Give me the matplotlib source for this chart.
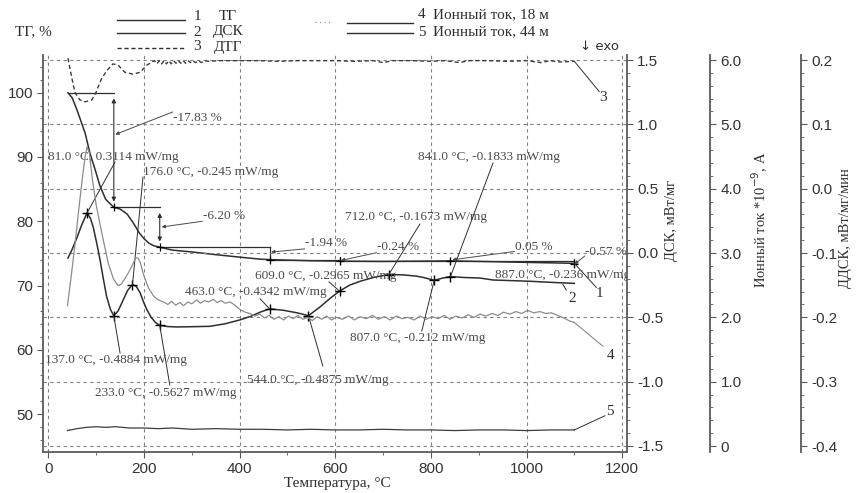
import numpy as np
import matplotlib
matplotlib.use("Agg")
import matplotlib.pyplot as plt
from matplotlib.lines import Line2D
from matplotlib.ticker import MultipleLocator, FuncFormatter

plt.rcParams['font.family'] = ['Liberation Sans', 'DejaVu Sans']
plt.rcParams['axes.unicode_minus'] = False

SERIF = ['Liberation Serif', 'DejaVu Serif']
DARK = '#2e2e2e'
GREY = '#8c8c8c'
TXT = '#4a4a4a'
AXC = '#5a5a5a'

# --- данные ---
# ТГ, %
tg_t = [41, 50, 60, 70, 77, 87, 98, 108, 120, 137, 150, 165, 178, 190, 200, 210,
        220, 233, 260, 303, 350, 402, 443, 463, 500, 550, 609, 700, 800, 841, 900,
        1000, 1100]
tg_v = [100.0, 99.2, 97.3, 95.2, 93.7, 90.6, 88.0, 85.5, 83.4, 82.17, 81.9, 81.1,
        79.7, 78.2, 77.3, 76.6, 76.2, 75.97, 75.5, 75.2, 74.8, 74.4, 74.1, 74.03,
        73.95, 73.85, 73.79, 73.75, 73.8, 73.84, 73.75, 73.6, 73.45]

# ступени ТГ
step_t = [41, 137, 233, 463, 609, 841, 1100]
step_pct = [-17.83, -6.20, -1.94, -0.24, 0.05, -0.57]

# ДСК, мВт/мг
dsc_t = [41, 50, 60, 70, 81, 88, 94, 101, 108, 115, 122, 130, 137, 146, 156, 166,
         176, 184, 192, 199, 206, 215, 224, 233, 250, 269, 300, 338, 370, 401, 425,
         443, 463, 491, 520, 544, 568, 590, 609, 630, 652, 680, 712, 742, 770, 784,
         807, 825, 841, 867, 903, 930, 970, 1008, 1050, 1091, 1100]
dsc_v = [-0.04, 0.03, 0.12, 0.22, 0.3114, 0.27, 0.20, 0.08, -0.05, -0.20, -0.34,
         -0.44, -0.4884, -0.45, -0.37, -0.29, -0.245, -0.26, -0.31, -0.38, -0.44,
         -0.50, -0.54, -0.5627, -0.572, -0.575, -0.573, -0.57, -0.55, -0.52, -0.49,
         -0.46, -0.4342, -0.445, -0.465, -0.4875, -0.42, -0.35, -0.2965, -0.25,
         -0.22, -0.19, -0.1673, -0.17, -0.18, -0.19, -0.212, -0.195, -0.1833,
         -0.19, -0.195, -0.21, -0.215, -0.22, -0.228, -0.235, -0.236]

# пики ДСК
peak_t = [81.0, 137.0, 176.0, 233.0, 463.0, 544.0, 609.0, 712.0, 807.0, 841.0]
peak_v = [0.3114, -0.4884, -0.245, -0.5627, -0.4342, -0.4875, -0.2965, -0.1673,
          -0.212, -0.1833]
extra_t = 887.0
extra_v = -0.236

# ДТГ, %/мин (правая шкала ДДСК)
dtg_t = [41, 50, 56, 66, 77, 91, 100, 104, 112, 123, 135, 146, 160, 177, 192, 206,
         217, 222, 227, 232, 237, 242, 247, 252, 257, 262, 267, 272, 277, 282, 287,
         292, 297, 302, 308, 314, 320, 327, 335, 360, 400, 440, 480, 520, 560, 600,
         640, 680, 700, 720, 760, 800, 830, 860, 880, 920, 960, 1000, 1030, 1050,
         1070, 1100]
dtg_v = [0.203, 0.169, 0.149, 0.138, 0.135, 0.138, 0.150, 0.158, 0.172, 0.184,
         0.194, 0.192, 0.181, 0.178, 0.181, 0.192, 0.197, 0.199, 0.194, 0.199,
         0.194, 0.199, 0.194, 0.199, 0.194, 0.199, 0.195, 0.199, 0.195, 0.199,
         0.195, 0.199, 0.196, 0.199, 0.196, 0.199, 0.196, 0.199, 0.198, 0.199,
         0.199, 0.199, 0.198, 0.199, 0.199, 0.199, 0.198, 0.199, 0.196, 0.199,
         0.199, 0.198, 0.199, 0.196, 0.199, 0.199, 0.198, 0.199, 0.196, 0.199,
         0.197, 0.198]

# Ионный ток, 18 м
i18_t = [40, 48, 56, 64, 71, 77, 81, 86, 92, 100, 108, 115, 125, 136, 146, 153,
         160, 168, 175, 183, 188, 192, 197, 202, 210, 220, 230, 241, 250, 258, 266,
         275, 283, 292, 300, 310, 318, 327, 335, 345, 353, 362, 370, 380, 390, 401,
         412, 422, 432, 442, 452, 462, 472, 482, 492, 502, 512, 522, 532, 542, 552,
         562, 572, 582, 592, 602, 615, 628, 640, 652, 665, 678, 690, 703, 715, 728,
         740, 752, 765, 778, 790, 803, 815, 828, 840, 852, 865, 878, 890, 903, 915,
         928, 940, 952, 965, 978, 990, 1002, 1015, 1028, 1040, 1052, 1065, 1078,
         1091, 1100]
i18_v = [2.18, 2.65, 3.15, 3.70, 4.15, 4.50, 4.65, 4.55, 4.15, 3.75, 3.45, 3.20,
         2.85, 2.60, 2.49, 2.52, 2.60, 2.70, 2.80, 2.93, 2.92, 2.86, 2.72, 2.60,
         2.45, 2.33, 2.27, 2.24, 2.20, 2.25, 2.19, 2.23, 2.18, 2.24, 2.21, 2.27,
         2.22, 2.26, 2.24, 2.28, 2.23, 2.26, 2.22, 2.24, 2.19, 2.12, 2.08, 2.06,
         2.02, 2.05, 1.99, 2.03, 1.97, 2.01, 1.96, 2.02, 1.98, 2.03, 1.97, 2.00,
         1.95, 2.01, 1.97, 2.02, 1.96, 2.00, 1.97, 2.02, 1.96, 2.01, 1.98, 2.03,
         1.97, 2.01, 1.96, 2.02, 1.98, 2.00, 1.96, 2.02, 1.97, 2.01, 1.98, 2.03,
         1.97, 2.02, 1.99, 2.04, 2.00, 2.05, 2.02, 2.06, 2.03, 2.08, 2.05, 2.09,
         2.06, 2.11, 2.07, 2.09, 2.06, 2.07, 2.03, 1.99, 1.94, 1.92]

# Ионный ток, 44 м
i44_t = [40, 60, 80, 100, 120, 140, 170, 200, 230, 260, 300, 350, 400, 450, 500,
         550, 600, 650, 700, 750, 800, 850, 900, 950, 1000, 1050, 1100]
i44_v = [0.24, 0.27, 0.29, 0.30, 0.29, 0.30, 0.28, 0.28, 0.27, 0.28, 0.26, 0.27,
         0.26, 0.26, 0.25, 0.26, 0.25, 0.25, 0.26, 0.25, 0.25, 0.24, 0.25, 0.25,
         0.24, 0.25, 0.25]

# --- размещение подписей (T, значение по своей шкале) ---
peak_txt = [(-0.6, 0.746), (-7, -0.832), (198, 0.63), (98, -1.088), (286, -0.303),
            (415, -0.987), (432, -0.179), (620, 0.28), (631, -0.661), (773, 0.746)]
peak_lead = [(139.5, 0.707), (150, -0.777), (198, 0.59), (254, -1.026),
             (443, -0.357), (574, -0.878), (587, -0.225), (777, 0.225),
             (781, -0.606), (930, 0.70)]
extra_txt = (934, -0.171)
step_txt = [(260, 96.1), (323, 80.8), (537, 76.6), (687, 76.0), (976, 76.0),
            (1122, 75.2)]
step_lead = [((140, 93.5), (260, 97.0)), ((237, 79.1), (322, 80.0)),
             ((466, 75.2), (536, 75.7)), ((612, 73.9), (686, 75.1)),
             ((845, 74.0), (975, 75.3)), ((1100, 73.3), (1122, 74.6))]

fig = plt.figure(figsize=(8.57, 4.93), dpi=100)
ax = fig.add_axes([43.3 / 857, 41 / 493, 583.4 / 857, 397 / 493])
ax_dsc = ax.twinx()
ax_ion = ax.twinx()
ax_dtg = ax.twinx()

ax.set_xlim(-10.5, 1209.5)
ax.set_ylim(44.09, 105.87)
ax_dsc.set_ylim(-1.547, 1.539)
ax_ion.set_ylim(-0.093, 6.078)
ax_dtg.set_ylim(-0.4093, 0.2078)

# сетка
gkw = dict(color='#808080', lw=0.8, ls=(0, (3, 3)))
ax.grid(axis='x', **gkw)
ax_dsc.grid(axis='y', **gkw)

# кривые
ax.plot(tg_t, tg_v, color=DARK, lw=1.1)
ax_dsc.plot(dsc_t, dsc_v, color=DARK, lw=1.1)
ax_dsc.plot(peak_t, peak_v, ls='none', marker='+', ms=7, mew=1.0, color='black')
ax_ion.plot(i18_t, i18_v, color=GREY, lw=0.9)
ax_ion.plot(i44_t, i44_v, color='#3c3c3c', lw=0.9)
ax_dtg.plot(dtg_t, dtg_v, color='#3c3c3c', lw=1.0, ls=(0, (3, 2)))

# ступени ТГ
levels = [100.0]
for s in step_pct:
    levels.append(levels[-1] + s)
lkw = dict(color=DARK, lw=0.9)
for i, s in enumerate(step_pct):
    ax.plot([step_t[i], step_t[i + 1]], [levels[i], levels[i]], **lkw)
    t1 = step_t[i + 1]
    if abs(s) > 5:
        ax.annotate('', xy=(t1, levels[i]), xytext=(t1, levels[i + 1]),
                    arrowprops=dict(arrowstyle='<|-|>', lw=0.8, color=DARK,
                                    mutation_scale=6, shrinkA=4, shrinkB=4))
    elif abs(s) > 1:
        ax.plot([t1, t1], [levels[i], levels[i + 1]], **lkw)
    else:
        mid = (levels[i] + levels[i + 1]) / 2
        ax.plot([t1, t1], [mid + 0.5, mid - 0.5], **lkw)
    (x0, y0), (x1, y1) = step_lead[i]
    ax.annotate('', xy=(x0, y0), xytext=(x1, y1),
                arrowprops=dict(arrowstyle='-|>', lw=0.7, color=TXT,
                                mutation_scale=5, shrinkA=0, shrinkB=0))
    ax.text(step_txt[i][0], step_txt[i][1], f"{s:.2f} %", family=SERIF,
            fontsize=9.5, color=TXT, ha='left', va='center')
ax.plot(step_t[1:], levels[1:], ls='none', marker='+', ms=6, mew=0.9,
        color='black')

# подписи пиков ДСК
for (pt, pv), (tx, ty), (lx, ly) in zip(zip(peak_t, peak_v), peak_txt, peak_lead):
    ax_dsc.plot([pt, lx], [pv, ly], color=DARK, lw=0.7)
    ax_dsc.text(tx, ty, f"{pt:.1f} °C, {pv:g} mW/mg", family=SERIF,
                fontsize=9.5, color=TXT, ha='left', va='center')
ax_dsc.text(extra_txt[0], extra_txt[1], f"{extra_t:.1f} °C, {extra_v:g} mW/mg",
            family=SERIF, fontsize=9.5, color=TXT, ha='left', va='center',
            clip_on=True, clip_box=ax.bbox)

# номера кривых
nkw = dict(family=SERIF, fontsize=11, color=DARK, ha='center', va='center')
ax.plot([tg_t[-1], 1146], [tg_v[-1], 69.7], color=DARK, lw=0.7)
ax.text(1152, 68.8, '1', **nkw)
ax.plot([1076, 1083], [70.2, 69.3], color=DARK, lw=0.7)
ax.text(1095, 67.9, '2', **nkw)
ax_dtg.plot([dtg_t[-1], 1152], [dtg_v[-1], 0.151], color=DARK, lw=0.7)
ax_dtg.text(1160, 0.1425, '3', **nkw)
ax_ion.plot([i18_t[-1], 1160], [i18_v[-1], 1.55], color=GREY, lw=0.8)
ax_ion.text(1175, 1.40, '4', **nkw)
ax_ion.plot([i44_t[-1], 1164], [i44_v[-1], 0.47], color=DARK, lw=0.7)
ax_ion.text(1175, 0.53, '5', **nkw)

# оси
for a in (ax, ax_dsc, ax_ion, ax_dtg):
    a.spines['top'].set_visible(False)
    for sp in a.spines.values():
        sp.set_color(AXC)
        sp.set_linewidth(1.3)
    a.tick_params(which='both', direction='out', color=AXC, labelcolor='#333333',
                  labelsize=11)
    a.tick_params(which='major', length=4)
    a.tick_params(which='minor', length=2.5)
ax.spines['right'].set_visible(False)
for a in (ax_dsc, ax_ion, ax_dtg):
    a.spines['left'].set_visible(False)
    a.spines['bottom'].set_visible(False)
ax_ion.spines['right'].set_position(('axes', 1.1428))
ax_dtg.spines['right'].set_position(('axes', 1.2988))

ax.xaxis.set_major_locator(MultipleLocator(200))
ax.xaxis.set_minor_locator(MultipleLocator(100))
ax.yaxis.set_major_locator(MultipleLocator(10))
ax.yaxis.set_minor_locator(MultipleLocator(2))
ax_dsc.yaxis.set_major_locator(MultipleLocator(0.5))
ax_dsc.yaxis.set_minor_locator(MultipleLocator(0.1))
ax_dsc.yaxis.set_major_formatter(FuncFormatter(lambda v, p: f"{v:.1f}"))
ax_ion.yaxis.set_major_locator(MultipleLocator(1))
ax_ion.yaxis.set_minor_locator(MultipleLocator(0.2))
ax_ion.yaxis.set_major_formatter(
    FuncFormatter(lambda v, p: "0" if abs(v) < 1e-9 else f"{v:.1f}"))
ax_dtg.yaxis.set_major_locator(MultipleLocator(0.1))
ax_dtg.yaxis.set_minor_locator(MultipleLocator(0.02))
ax_dtg.yaxis.set_major_formatter(FuncFormatter(lambda v, p: f"{v:.1f}"))

# подписи осей
def fx(px):
    return px / 857


def fy(py):
    return 1 - py / 493


fig.text(fx(337), fy(483), 'Температура, °С', family=SERIF, fontsize=11,
         color=DARK, ha='center', va='center')
fig.text(fx(672), fy(220), 'ДСК, мВт/мг', family=SERIF, fontsize=10.5,
         color=DARK, ha='center', va='center', rotation=90)
fig.text(fx(760), fy(220), 'Ионный ток *10$^{-9}$, А', family=SERIF,
         fontsize=10.5, color=DARK, ha='center', va='center', rotation=90)
fig.text(fx(845), fy(228), 'ДДСК, мВт/мг/мин', family=SERIF, fontsize=10.5,
         color=DARK, ha='center', va='center', rotation=90)
fig.text(fx(15), fy(32), 'ТГ, %', family=SERIF, fontsize=11, color=DARK,
         ha='left', va='center')
fig.text(fx(580), fy(47), '↓ exo', fontsize=9.5, color=DARK, ha='left',
         va='center', family=['DejaVu Sans'])

# легенда
leg = [(20, '1', 'ТГ', '-'), (33, '2', 'ДСК', '-'), (48, '3', 'ДТГ', (0, (3, 2)))]
for py, num, name, ls in leg:
    fig.add_artist(Line2D([fx(117), fx(185)], [fy(py), fy(py)], color=DARK,
                          lw=1.0, ls=ls))
    fig.text(fx(197), fy(py - 4 if num == '1' else py - 1), num, family=SERIF,
             fontsize=11, color=DARK, ha='center', va='center')
    fig.text(fx(228), fy(py - 4 if num == '1' else py - 1), name, family=SERIF,
             fontsize=11, color=DARK, ha='center', va='center')
fig.add_artist(Line2D([fx(315), fx(333)], [fy(22), fy(22)], color=GREY,
                      lw=0.8, ls=(0, (1, 3))))
for py, num, name in [(23, '4', 'Ионный ток, 18 м'), (33, '5', 'Ионный ток, 44 м')]:
    fig.add_artist(Line2D([fx(347), fx(413)], [fy(py), fy(py)], color=DARK,
                          lw=1.0))
    ty = 15 if num == '4' else 32
    fig.text(fx(422), fy(ty), num, family=SERIF, fontsize=11, color=DARK,
             ha='center', va='center')
    fig.text(fx(433), fy(ty), name, family=SERIF, fontsize=11, color=DARK,
             ha='left', va='center')

fig.savefig('out.png', dpi=100)
